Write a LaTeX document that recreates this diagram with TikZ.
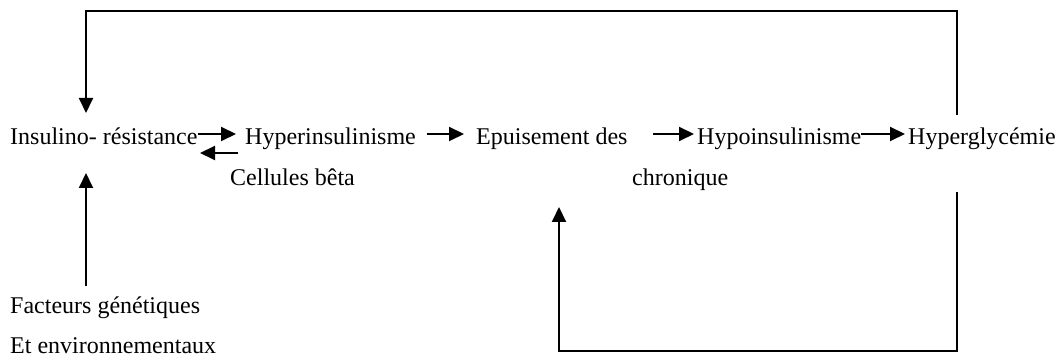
\documentclass[tikz,border=0pt]{standalone}
\usepackage{fontspec}
\setmainfont{Liberation Serif}
\usetikzlibrary{arrows.meta}
\begin{document}
\begin{tikzpicture}[x=1pt,y=-1pt,
  lbl/.style={anchor=base west,inner sep=0pt,font=\fontsize{24}{28}\selectfont},
  arr/.style={line width=2pt,-{Triangle[length=15pt,width=14pt]}},
  ln/.style={line width=2pt}]
\useasboundingbox (0,0) rectangle (1059,363);
% main row
\node[lbl] (ir)   at (10,145)  {Insulino- résistance};
\node[lbl] (hi)   at (245,145) {Hyperinsulinisme};
\node[lbl] (ep)   at (476,145) {Epuisement des};
\node[lbl] (hypo) at (697,145) {Hypoinsulinisme};
\node[lbl] (hg)   at (908,145) {Hyperglycémie};
\node[lbl] (cb)   at (230,186) {Cellules bêta};
\node[lbl] (chr)  at (632,186) {chronique};
\node[lbl] (fg)   at (10,313)  {Facteurs génétiques};
\node[lbl] (fe)   at (10,353)  {Et environnementaux};
% arrow end points
\coordinate (a1s) at (198,134); \coordinate (a1e) at (236,134);
\coordinate (a2s) at (238,153); \coordinate (a2e) at (200,153);
\coordinate (a3s) at (427,134); \coordinate (a3e) at (464,134);
\coordinate (a4s) at (653,134); \coordinate (a4e) at (694,134);
\coordinate (a5s) at (861,134); \coordinate (a5e) at (905,134);
\draw[arr] (a1s) -- (a1e);
\draw[arr] (a2s) -- (a2e);
\draw[arr] (a3s) -- (a3e);
\draw[arr] (a4s) -- (a4e);
\draw[arr] (a5s) -- (a5e);
% top loop
\coordinate (t0) at (957,115);
\coordinate (t1) at (957,11);
\coordinate (t2) at (86,11);
\coordinate (t3) at (86,113);
\draw[arr] (t0) -- (t1) -- (t2) -- (t3);
% factors arrow
\coordinate (f0) at (86,286);
\coordinate (f1) at (86,173);
\draw[arr] (f0) -- (f1);
% bottom loop
\coordinate (b0) at (957,192);
\coordinate (b1) at (957,351);
\coordinate (b2) at (559,351);
\coordinate (b3) at (559,207);
\draw[arr] (b0) -- (b1) -- (b2) -- (b3);
\end{tikzpicture}
\end{document}
